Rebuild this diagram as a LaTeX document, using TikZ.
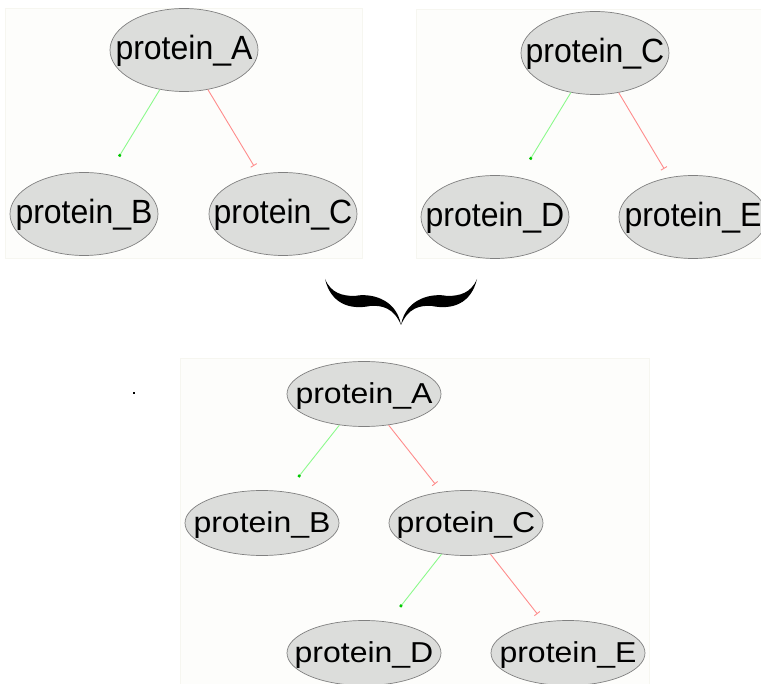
\documentclass[tikz,border=0pt]{standalone}
\usepackage{fontspec}
\setmainfont{Liberation Sans}
\usepackage{graphicx}
\usetikzlibrary{arrows.meta,shapes.geometric}

\definecolor{actgreen}{RGB}{140,250,140}
\definecolor{actdot}{RGB}{0,200,0}
\definecolor{inhred}{RGB}{255,140,140}
\definecolor{protfill}{RGB}{220,221,219}
\definecolor{panelbg}{RGB}{253,253,251}
\definecolor{panelline}{RGB}{246,246,240}

% label sits on the centre, the ellipse size comes from the style
\newcommand{\prot}[2][1.05]{\smash{\raisebox{-9.5pt}{\makebox[0pt]{\scalebox{1}[#1]{protein\_#2}}}}}

\begin{document}
\begin{tikzpicture}[x=1pt,y=-1pt]
		\tikzstyle{panel}=[fill=panelbg, draw=panelline, line width=0.6pt]
		\tikzstyle{protein}=[ellipse, draw=black!50, fill=protfill, line width=0.7pt, inner sep=0pt, font=\fontsize{32}{36}\selectfont]
		\tikzstyle{tallprot}=[protein, minimum width=148pt, minimum height=83pt]
		\tikzstyle{flatprot}=[protein, minimum width=154pt, minimum height=65pt]
		\tikzstyle{activ}=[draw=actgreen, line width=0.9pt, -{Square[length=2.5pt,width=2.5pt,color=actdot,fill=actdot]}, shorten >=21pt]
		\tikzstyle{inhib}=[draw=inhred, line width=0.9pt, -{Bar[width=7pt]}, shorten >=10pt]

		\useasboundingbox (0,0) rectangle (761,684);

		% the two small networks
		\draw [panel] (5,8) rectangle (362,258);
		\node [tallprot] (a1) at (184,50) {\prot{A}};
		\node [tallprot] (b1) at (84,214) {\prot{B}};
		\node [tallprot] (c1) at (283,214) {\prot{C}};
		\path (a1) edge [activ] (b1)
		           edge [inhib] (c1);

		\draw [panel] (416,9) rectangle (775,258);
		\node [tallprot] (c2) at (595,53) {\prot{C}};
		\node [tallprot] (d2) at (495,217) {\prot{D}};
		\node [tallprot] (e2) at (693,217) {\prot{E}};
		\path (c2) edge [activ] (d2)
		           edge [inhib] (e2);

		% brace
		\fill (325,279) .. controls (331,293) and (342,296) .. (355,296)
			.. controls (368,293) and (396,297) .. (401,325)
			.. controls (406,297) and (434,293) .. (447,296)
			.. controls (460,296) and (471,293) .. (477,279)
			.. controls (471,304) and (452,310) .. (432,306)
			.. controls (420,305) and (408,308) .. (401,325)
			.. controls (394,308) and (382,305) .. (370,306)
			.. controls (350,310) and (331,304) .. (325,279) -- cycle;
		\fill (133,392) rectangle (135,394);

		% merged network
		\draw [panel] (180,358) rectangle (649,700);
		\node [flatprot] (a3) at (364,394) {\prot[0.9]{A}};
		\node [flatprot] (b3) at (262,523) {\prot[0.9]{B}};
		\node [flatprot] (c3) at (466,523) {\prot[0.9]{C}};
		\node [flatprot] (d3) at (364,653) {\prot[0.9]{D}};
		\node [flatprot] (e3) at (568,653) {\prot[0.9]{E}};
		\path (a3) edge [activ, shorten >=19pt] (b3)
		           edge [inhib] (c3);
		\path (c3) edge [activ, shorten >=19pt] (d3)
		           edge [inhib] (e3);
	\end{tikzpicture}
\end{document}
